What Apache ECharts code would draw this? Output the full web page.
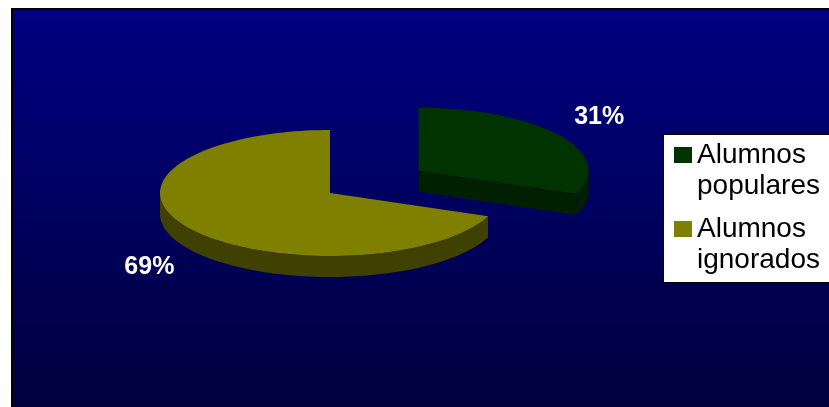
<!DOCTYPE html>
<html>
<head>
<meta charset="utf-8">
<script src="https://cdn.jsdelivr.net/npm/echarts@6/dist/echarts.min.js"></script>
<style>
  html, body { margin: 0; padding: 0; background: #fff; }
  #chart { width: 829px; height: 407px; }
</style>
</head>
<body>
<div id="chart"></div>
<script>
// Share of pupils by sociometric status
const categories = ['Alumnos\npopulares', 'Alumnos\nignorados'];
const values = [31, 69];

// Styling
const topColors = ['#003300', '#808000'];
const sideColors = ['#002000', '#404000'];
const explode = [0.63, 0];
const FONT = '"Liberation Sans", Arial, Helvetica, sans-serif';

// 3D pie layout: ellipse centre, radii and thickness
const PIE = { cx: 330, cy: 193, rx: 170, ry: 63, depth: 21 };
const labelLayout = [
  { dx: 40, dy: -18, align: 'center', base: 'top', leader: false },
  { dx: -15, dy: 18, align: 'right', base: 'bottom', leader: true }
];

const total = values.reduce((a, b) => a + b, 0);
const startAngles = [];
let acc = 0;
values.forEach(v => { startAngles.push(acc / total * Math.PI * 2); acc += v; });

// angle t measured clockwise from 12 o'clock
function pt(c, t, dy) {
  return [c[0] + PIE.rx * Math.sin(t), c[1] - PIE.ry * Math.cos(t) + (dy || 0)];
}
function arc(c, a0, a1, dy) {
  const n = Math.max(2, Math.ceil(Math.abs(a1 - a0) / (Math.PI / 90)));
  const out = [];
  for (let k = 0; k <= n; k++) out.push(pt(c, a0 + (a1 - a0) * k / n, dy));
  return out;
}

function renderSlice(i) {
  const v = values[i];
  const a0 = startAngles[i];
  const a1 = a0 + v / total * Math.PI * 2;
  const mid = (a0 + a1) / 2;
  const c = [PIE.cx + explode[i] * PIE.rx * Math.sin(mid),
             PIE.cy - explode[i] * PIE.ry * Math.cos(mid)];
  const D = PIE.depth;
  const side = { fill: sideColors[i] };
  const children = [];

  // radial cut faces that turn towards the viewer
  if (Math.sin(a0) < -1e-6) {
    children.push({ type: 'polygon', shape: { points: [c, pt(c, a0), pt(c, a0, D), [c[0], c[1] + D]] }, style: side });
  }
  if (Math.sin(a1) > 1e-6) {
    children.push({ type: 'polygon', shape: { points: [c, pt(c, a1), pt(c, a1, D), [c[0], c[1] + D]] }, style: side });
  }
  // curved outer wall on the front half of the ellipse
  const w0 = Math.max(a0, Math.PI / 2);
  const w1 = Math.min(a1, Math.PI * 1.5);
  if (w1 > w0) {
    children.push({ type: 'polygon', shape: { points: arc(c, w0, w1).concat(arc(c, w1, w0, D)) }, style: side });
  }
  // top face
  children.push({ type: 'polygon', shape: { points: [c].concat(arc(c, a0, a1)) }, style: { fill: topColors[i] } });

  // percentage label
  const lay = labelLayout[i];
  const anchor = pt(c, mid, lay.base === 'bottom' ? D : 0);
  const lx = anchor[0] + lay.dx;
  const ly = anchor[1] + lay.dy;
  if (lay.leader) {
    children.push({
      type: 'polyline',
      shape: { points: [anchor, [anchor[0], ly], [lx + 2, ly]] },
      style: { stroke: '#000', lineWidth: 1, fill: null }
    });
  }
  children.push({
    type: 'text',
    style: {
      text: Math.round(v / total * 100) + '%',
      x: lx, y: ly,
      align: lay.align, verticalAlign: 'middle',
      fill: '#fff', fontFamily: FONT, fontSize: 25, fontWeight: 'bold'
    }
  });
  return { type: 'group', children };
}

const chart = echarts.init(document.getElementById('chart'), null, { renderer: 'canvas' });
chart.setOption({
  animation: false,
  backgroundColor: '#fff',
  graphic: [
    {
      type: 'rect', z: -10,
      shape: { x: 12, y: 9, width: 830, height: 410 },
      style: {
        fill: { type: 'linear', x: 0, y: 0, x2: 0, y2: 1,
                colorStops: [{ offset: 0, color: '#000082' }, { offset: 1, color: '#00003a' }] },
        stroke: '#000', lineWidth: 2
      }
    },
    {
      type: 'rect', z: -5,
      shape: { x: 663.5, y: 134.5, width: 170, height: 148 },
      style: { fill: '#fff', stroke: '#000', lineWidth: 1 }
    }
  ],
  legend: {
    orient: 'vertical',
    left: 674, top: 108.5,
    padding: 0, itemGap: -19,
    itemWidth: 18, itemHeight: 16,
    icon: 'rect',
    selectedMode: false,
    data: categories,
    // a leading empty line keeps the swatch beside the first line of each name
    formatter: name => '\n' + name,
    textStyle: { fontFamily: FONT, fontSize: 28, lineHeight: 31, color: '#000' }
  },
  series: values.map((v, i) => ({
    type: 'custom',
    name: categories[i],
    coordinateSystem: 'none',
    silent: true,
    itemStyle: { color: topColors[i] },
    data: [v],
    renderItem: () => renderSlice(i)
  }))
});
</script>
</body>
</html>
